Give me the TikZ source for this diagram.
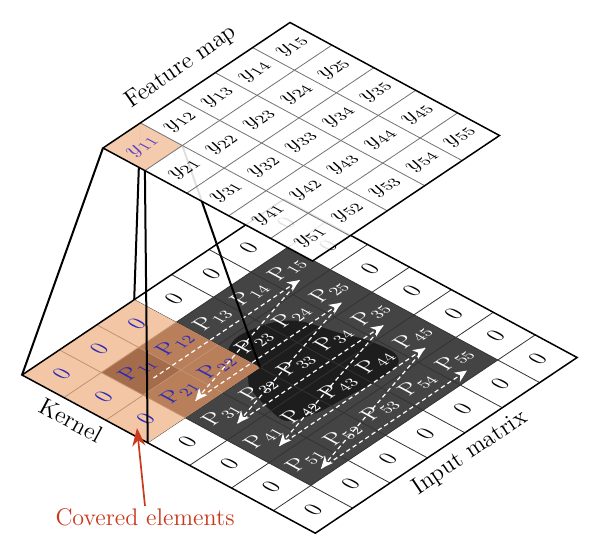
\documentclass[tikz,border=0pt]{standalone}
\usetikzlibrary{arrows.meta}
\definecolor{peach}{HTML}{F3C6A5}
\definecolor{kbrown}{HTML}{B97E5A}
\definecolor{kbrownd}{HTML}{A56C4B}
\definecolor{kline}{HTML}{C29372}
\definecolor{darkcell}{HTML}{444444}
\definecolor{blobc}{HTML}{1D1D1D}
\definecolor{lblue}{HTML}{2A2AB8}
\definecolor{ypurple}{HTML}{5B3FC2}
\definecolor{redc}{HTML}{C9391C}
\begin{document}
\begin{tikzpicture}[x=0.5pt,y=-0.5pt,
  inplane/.style={cm={0.830,0.557,-0.880,0.475,(0,0)},transform shape,inner sep=0pt,font=\fontsize{11.5}{13}\selectfont},
  gridin/.style={draw=black!80,line width=0.4pt},
  gridout/.style={draw=black,line width=0.75pt},
  fmgrid/.style={draw=black!55,line width=0.4pt},
  scan/.style={draw=white,line width=0.6pt,dash pattern=on 2.2pt off 1.6pt,-{Stealth[length=6pt,width=5.4pt,inset=1.8pt]}},
  pyr/.style={draw=black,line width=1pt},
  title/.style={font=\fontsize{12}{14}\selectfont,inner sep=1pt},
  redarrow/.style={draw=redc,line width=0.85pt,-{Stealth[length=9pt,width=6.5pt]}}
]
\useasboundingbox (0,0) rectangle (600,557);
\fill[white] (0,0) rectangle (600,557);

% ---------- input matrix ----------
\begin{scope}[shift={(22,375)}, x={(20.95pt,-11.3pt)}, y={(18.7pt,12.55pt)}]
  \fill[white] (0,0) -- (0,7) -- (7,7) -- (7,0) -- cycle;
  \fill[darkcell] (1,1) -- (1,6) -- (6,6) -- (6,1) -- cycle;
  \begin{scope}
    \clip (1,1) -- (1,6) -- (6,6) -- (6,1) -- cycle;
    \fill[blobc] plot[smooth cycle] coordinates {(2.10,3.40) (2.26,4.10) (2.61,4.50) (3.32,4.70) (3.87,4.88) (4.46,4.93) (4.76,4.72) (4.81,4.13) (4.73,3.39) (4.65,2.68) (4.41,2.14) (3.91,2.20) (3.27,2.43) (2.90,2.75) (2.36,2.84)};
  \end{scope}
  \foreach \k in {1,...,6} {
    \draw[gridin] (\k,0) -- (\k,7);
    \draw[gridin] (0,\k) -- (7,\k);
  }
  % kernel overlay
  \fill[peach] (0,0) -- (0,3) -- (3,3) -- (3,0) -- cycle;
  \fill[kbrown] (1,1) -- (1,3) -- (3,3) -- (3,1) -- cycle;
  \fill[kbrownd] (1,1) -- (1,2) -- (2,2) -- (2,1) -- cycle;
  \foreach \k in {1,2} {
    \draw[kline,line width=0.4pt] (\k,0) -- (\k,3);
    \draw[kline,line width=0.4pt] (0,\k) -- (3,\k);
  }
  \draw[gridout] (0,0) -- (0,7) -- (7,7) -- (7,0) -- cycle;
  \coordinate (kL) at (0,0);
  \coordinate (kT) at (0,3);
  \coordinate (kR) at (3,3);
  \coordinate (kB) at (3,0);
  % zeros
  \foreach \rr in {0,...,6} \foreach \cc in {0,...,6} {
    \pgfmathtruncatemacro\isring{(\rr==0)||(\rr==6)||(\cc==0)||(\cc==6)}
    \pgfmathtruncatemacro\inker{(\rr<3)&&(\cc<3)}
    \ifnum\isring=1
      \ifnum\inker=1
        \node[inplane,text=lblue] (z\rr\cc) at (\rr+0.5,\cc+0.5) {0};
      \else
        \node[inplane] (z\rr\cc) at (\rr+0.5,\cc+0.5) {0};
      \fi
    \fi
  }
  % P labels
  \foreach \ii in {1,...,5} \foreach \jj in {1,...,5} {
    \pgfmathtruncatemacro\inker{(\ii<3)&&(\jj<3)}
    \ifnum\inker=1 \def\pcol{lblue}\else\def\pcol{white}\fi
    \node[inplane,text=\pcol] (p\ii\jj) at (\ii+0.42,\jj+0.5) {P$_{\ii\jj}$};
  }
  % scan path
  \foreach \ii in {1,...,5} {
    \coordinate (rs\ii) at (\ii+0.8,1.5);
    \coordinate (re\ii) at (\ii+0.8,5.4);
  }
  \foreach \ii in {1,...,5} {\draw[scan] (rs\ii) -- (re\ii);}
  \foreach \ii/\nn in {1/2,2/3,3/4,4/5} {\draw[scan] (re\ii) -- (rs\nn);}
\end{scope}

% ---------- feature map corner coordinates ----------
\begin{scope}[shift={(103,148)}, x={(20.95pt,-11.3pt)}, y={(18.7pt,12.55pt)}]
  \coordinate (yL) at (0,0);
  \coordinate (yT) at (0,1);
  \coordinate (yR) at (1,1);
  \coordinate (yB) at (1,0);
\end{scope}

% pyramid lines
\draw[pyr] (kL) -- (yL);
\draw[pyr] (kT) -- (yT);
\draw[pyr] (kB) -- (yB);
\draw[pyr] (kR) -- (yR);

% ---------- feature map ----------
\begin{scope}[shift={(103,148)}, x={(20.95pt,-11.3pt)}, y={(18.7pt,12.55pt)}]
  \fill[white,fill opacity=0.88] (0,0) -- (0,5) -- (5,5) -- (5,0) -- cycle;
  \fill[peach,fill opacity=0.9] (0,0) -- (0,1) -- (1,1) -- (1,0) -- cycle;
  \foreach \k in {1,...,4} {
    \draw[fmgrid] (\k,0) -- (\k,5);
    \draw[fmgrid] (0,\k) -- (5,\k);
  }
  \draw[gridout] (0,0) -- (0,5) -- (5,5) -- (5,0) -- cycle;
  \foreach \ii in {1,...,5} \foreach \jj in {1,...,5} {
    \pgfmathtruncatemacro\isfirst{(\ii==1)&&(\jj==1)}
    \ifnum\isfirst=1 \def\ycol{ypurple}\else\def\ycol{black}\fi
    \node[inplane,text=\ycol] (y\ii\jj) at (\ii-0.5,\jj-0.5) {$y_{\ii\jj}$};
  }
\end{scope}

% ---------- titles ----------
\node[title,rotate=35] (fmlbl) at (181,67) {Feature map};
\node[title,rotate=-28.3] (klbl) at (71,420) {Kernel};
\node[title,rotate=34] (imlbl) at (470,453) {Input matrix};
\node[title,text=redc] (cov) at (145,517) {Covered elements};
\coordinate (covtip) at (137,428);
\draw[redarrow] (cov.north) -- (covtip);
\end{tikzpicture}
\end{document}
